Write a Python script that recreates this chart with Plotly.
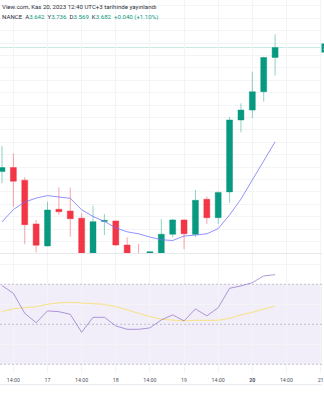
import plotly.graph_objects as go

# ---------------- data ----------------
candle_idx = list(range(25))
opens  = [3.182, 3.198, 3.147, 2.971, 2.882, 3.030, 3.023, 2.994, 2.835, 2.981, 2.983, 2.886, 2.845,
          2.835, 2.845, 2.929, 2.987, 2.929, 3.070, 2.996, 3.100, 3.390, 3.430, 3.504, 3.642]
highs  = [3.285, 3.255, 3.159, 2.987, 3.060, 3.119, 3.117, 3.014, 3.044, 3.011, 2.984, 2.917, 2.890,
          2.862, 2.990, 2.991, 2.989, 3.108, 3.081, 3.102, 3.402, 3.457, 3.585, 3.645, 3.736]
lows   = [3.135, 3.040, 2.889, 2.856, 2.880, 3.006, 2.919, 2.820, 2.825, 2.926, 2.882, 2.820, 2.810,
          2.820, 2.835, 2.917, 2.869, 2.919, 2.971, 2.971, 3.056, 3.340, 3.397, 3.464, 3.569]
closes = [3.198, 3.143, 2.968, 2.885, 3.027, 3.020, 2.992, 2.834, 2.980, 2.985, 2.886, 2.840, 2.830,
          2.859, 2.929, 2.987, 2.931, 3.066, 2.996, 3.098, 3.390, 3.430, 3.504, 3.642, 3.682]
ma_values = [2.979, 3.029, 3.059, 3.075, 3.085, 3.081, 3.074, 3.028, 3.001, 2.981, 2.955, 2.939, 2.931,
             2.918, 2.907, 2.904, 2.922, 2.926, 2.931, 2.952, 3.007, 3.071, 3.148, 3.229, 3.302]
rsi_values = [69.4, 65.5, 55.5, 50.8, 56.7, 56.3, 55.0, 46.0, 53.5, 53.5, 49.2, 47.5, 47.5,
              48.2, 52.2, 54.7, 51.7, 57.7, 54.2, 58.3, 68.0, 69.2, 70.8, 74.2, 74.8]
rsi_ma_values = [56.3, 57.8, 58.3, 58.8, 60.0, 60.7, 61.0, 60.5, 60.3, 60.0, 58.8, 57.2, 55.5,
                 53.8, 52.5, 52.0, 51.7, 52.0, 52.0, 52.0, 53.0, 54.7, 56.0, 57.5, 59.2]
tick_pos  = [1, 4, 7, 10, 13, 16, 19, 22, 25, 28]
tick_text = ["14:00", "17", "14:00", "18", "14:00", "19", "14:00", "<b>20</b>", "14:00", "21"]
rsi_upper, rsi_mid, rsi_lower = 70, 50, 30
header_line1 = "View.com, Kas 20, 2023 12:40 UTC+3 tarihinde yayınlandı"
ohlc_labels = ["A", "Y", "D", "K"]
change_text = "+0.040 (+1.10%)"

# ---------------- styles ----------------
UP, DOWN = "#089981", "#F23645"
GRID = "#F3F4F6"
FONT = "Roboto"
W, H = 324, 400
MAIN_BOTTOM_PX, RSI_BOTTOM_PX, AXIS_LINE_PX = 253.5, 373, 384.7

fig = go.Figure()

fig.add_trace(go.Candlestick(
    x=candle_idx, open=opens, high=highs, low=lows, close=closes,
    increasing=dict(fillcolor=UP, line=dict(color="rgba(8,153,129,0.45)", width=1)),
    decreasing=dict(fillcolor=DOWN, line=dict(color="rgba(242,54,69,0.45)", width=1)),
    whiskerwidth=0, xaxis="x", yaxis="y", showlegend=False, hoverinfo="skip"))

fig.add_trace(go.Scatter(x=candle_idx, y=ma_values, mode="lines",
                         line=dict(color="rgba(110,110,250,0.75)", width=1),
                         xaxis="x", yaxis="y", showlegend=False, hoverinfo="skip"))

fig.add_trace(go.Scatter(x=candle_idx, y=rsi_ma_values, mode="lines",
                         line=dict(color="rgba(250,220,80,0.7)", width=1),
                         xaxis="x2", yaxis="y2", showlegend=False, hoverinfo="skip"))
fig.add_trace(go.Scatter(x=candle_idx, y=rsi_values, mode="lines",
                         line=dict(color="rgba(126,87,194,0.6)", width=1),
                         xaxis="x2", yaxis="y2", showlegend=False, hoverinfo="skip"))

px_per_candle = 11.45
x0 = -2 / px_per_candle
x1 = x0 + W / px_per_candle

main_dom = [(H - MAIN_BOTTOM_PX) / H, 1]
rsi_dom = [(H - RSI_BOTTOM_PX) / H, (H - MAIN_BOTTOM_PX) / H]

xaxis_common = dict(range=[x0, x1], tickmode="array", tickvals=tick_pos, showgrid=True,
                    gridcolor=GRID, gridwidth=1, zeroline=False, showline=False, fixedrange=True)

fig.update_layout(
    width=W, height=H, margin=dict(l=0, r=0, t=0, b=0),
    paper_bgcolor="white", plot_bgcolor="white", boxgap=0.25,
    xaxis=dict(**xaxis_common, anchor="y", showticklabels=False, rangeslider=dict(visible=False)),
    yaxis=dict(domain=main_dom, range=[2.8516, 3.8738], dtick=0.05, tick0=0, showgrid=True,
               gridcolor=GRID, zeroline=False, showticklabels=False, showline=False),
    xaxis2=dict(**xaxis_common, anchor="y2", ticktext=tick_text, showticklabels=True,
                ticks="outside", ticklen=2, tickcolor="rgba(0,0,0,0)", ticklabeloverflow="allow",
                tickfont=dict(family=FONT, size=5.3, color="#50535E")),
    yaxis2=dict(domain=rsi_dom, range=[25.65, 85.4], tickmode="array", tickvals=[40, 60, 80],
                showgrid=True, gridcolor=GRID, zeroline=False, showticklabels=False, showline=False),
)

shapes = [
    dict(type="rect", xref="x2 domain", yref="y2", x0=0, x1=1, y0=rsi_lower, y1=rsi_upper,
         fillcolor="rgba(126,87,194,0.1)", line=dict(width=0), layer="below"),
]
for lvl in (rsi_upper, rsi_mid, rsi_lower):
    shapes.append(dict(type="line", xref="x2 domain", yref="y2", x0=0, x1=1, y0=lvl, y1=lvl,
                       line=dict(color="rgba(120,123,134,0.4)", width=1, dash="2px,2px")))
shapes.append(dict(type="line", xref="paper", yref="paper", x0=0, x1=1,
                   y0=main_dom[0], y1=main_dom[0], line=dict(color="#E6E8EE", width=1)))
shapes.append(dict(type="line", xref="paper", yref="paper", x0=0, x1=1,
                   y0=(H - AXIS_LINE_PX) / H, y1=(H - AXIS_LINE_PX) / H,
                   line=dict(color="#E6E8EE", width=1)))
shapes.append(dict(type="line", xref="x domain", yref="y", x0=0, x1=1,
                   y0=closes[-1], y1=closes[-1], layer="below",
                   line=dict(color="rgba(8,153,129,0.22)", width=1)))
fig.update_layout(shapes=shapes)

vals = [opens[-1], highs[-1], lows[-1], closes[-1]]
sp = "\u00a0"
line2 = "NANCE" + sp * 2
for lab, v in zip(ohlc_labels, vals):
    line2 += f"{lab}<span style='color:{UP}'>{v:.3f}</span>" + sp * 2
line2 += f"<span style='color:{UP}'>{change_text}</span>"

fig.add_annotation(text=header_line1, xref="paper", yref="paper", x=0, y=1 - 6 / H,
                   xanchor="left", yanchor="middle", showarrow=False,
                   font=dict(family=FONT, size=6.1, color="#2A2E39"))
fig.add_annotation(text=line2, xref="paper", yref="paper", x=0, y=1 - 16.7 / H,
                   xanchor="left", yanchor="middle", showarrow=False,
                   font=dict(family=FONT, size=6.1, color="#2A2E39"))
fig.add_annotation(text=f"{closes[-1]:.3f}", xref="x", yref="y", x=28.0, y=closes[-1],
                   xanchor="left", yanchor="middle", showarrow=False, bgcolor=UP, borderpad=1,
                   font=dict(family=FONT, size=5.3, color="white"))

fig.write_html("out.html")
